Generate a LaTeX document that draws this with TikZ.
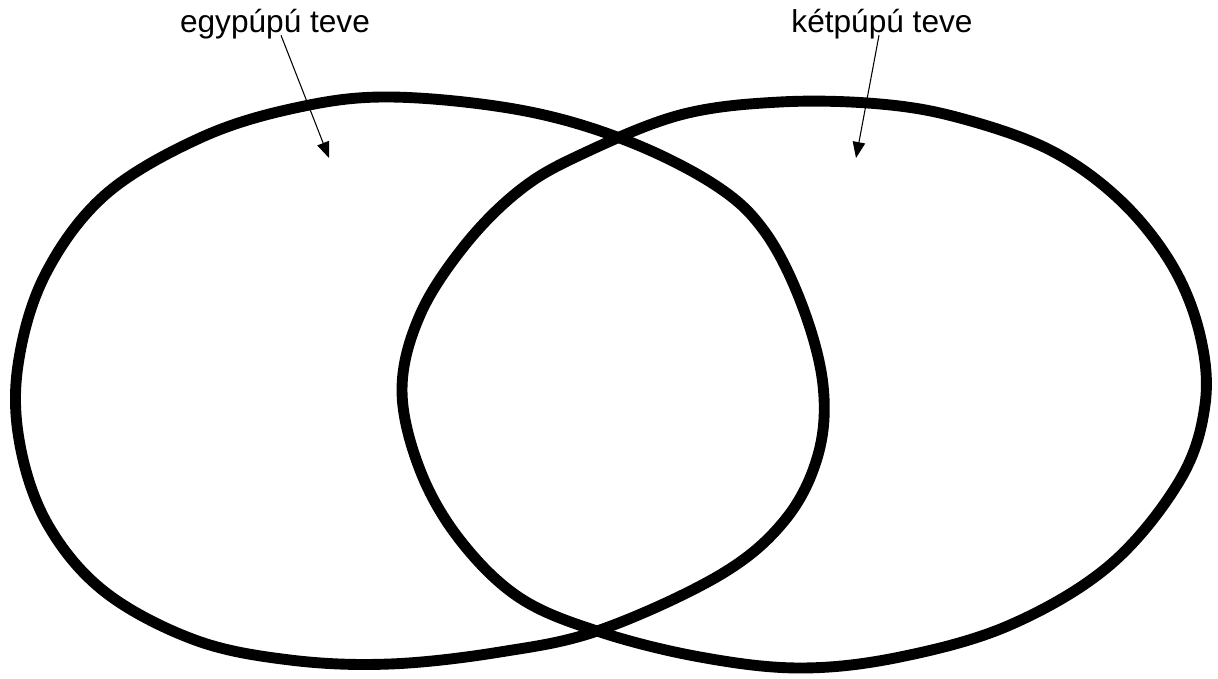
\documentclass[tikz,border=0pt]{standalone}
\usepackage{fontspec}
\setmainfont{Liberation Sans}
\usetikzlibrary{arrows.meta}

\begin{document}
\begin{tikzpicture}[x=0.02cm,y=-0.02cm,
  ring/.style={line width=6.2pt,line join=round},
  pointer/.style={-{Triangle[length=0.32cm,width=0.25cm]},line width=0.6pt},
  tag/.style={inner sep=0pt,font=\fontsize{18}{22}\selectfont}]
  \useasboundingbox (0,0) rectangle (1218,679);
  % one-humped camel set
  \draw[ring] plot[smooth cycle,tension=0.6] coordinates {
    (390,97) (520,110) (625,140) (715,185) (765,232) (802,305) (823,385)
    (818,455) (785,520) (720,575) (600,630) (500,652) (390,664) (290,660)
    (195,640) (105,592) (48,525) (20,445) (18,365) (45,275) (105,195)
    (200,138) (295,108)};
  % two-humped camel set
  \draw[ring] plot[smooth cycle,tension=0.6] coordinates {
    (780,102) (880,104) (960,118) (1050,150) (1120,200) (1172,265)
    (1200,335) (1205,405) (1180,480) (1110,565) (1010,625) (900,657)
    (800,668) (700,657) (600,632) (520,598) (460,540) (420,470)
    (402,390) (420,315) (465,245) (520,190) (580,155) (680,115)};
  \node[tag] (egy) at (275,24) {egypúpú teve};
  \node[tag] (ket) at (882,24) {kétpúpú teve};
  \coordinate (egyhead) at (329,158);
  \coordinate (kethead) at (856,158);
  \draw[pointer] ([shift={(6,-4)}]egy.south) -- (egyhead);
  \draw[pointer] ([shift={(-3,-4)}]ket.south) -- (kethead);
\end{tikzpicture}
\end{document}
